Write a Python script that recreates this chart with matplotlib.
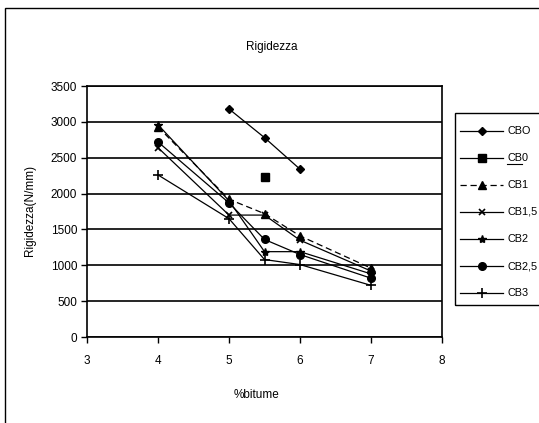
import matplotlib
matplotlib.use("Agg")
import matplotlib.pyplot as plt
from matplotlib.lines import Line2D
from matplotlib.patches import Rectangle

plt.rcParams['font.family'] = ['Liberation Sans', 'DejaVu Sans']

# Bitumen content (%) and stiffness (N/mm) per mix
series_names = ["CBO", "CB0", "CB1", "CB1,5", "CB2", "CB2,5", "CB3"]
x_cbo = [5, 5.5, 6]
y_cbo = [3180, 2780, 2340]
x_cb0 = [5.5]
y_cb0 = [2230]
x_main = [4, 5, 5.5, 6, 7]
y_cb1 = [2930, 1920, 1720, 1410, 960]
y_cb15 = [2640, 1700, 1700, 1350, 920]
y_cb2 = [2960, 1900, 1190, 1190, 880]
y_cb25 = [2720, 1870, 1360, 1150, 820]
y_cb3 = [2260, 1650, 1080, 1010, 720]

x_ticks = [3, 4, 5, 6, 7, 8]
y_ticks = [0, 500, 1000, 1500, 2000, 2500, 3000, 3500]

W, H = 539, 423
fig = plt.figure(figsize=(W / 100, H / 100), dpi=100)
fig.patch.set_facecolor("white")

# outer chart frame
fig.add_artist(Rectangle((5 / W, -0.05), 1.2, 1 - 8 / H + 0.05,
                         transform=fig.transFigure, fill=False,
                         edgecolor="black", linewidth=1.0))

ax = fig.add_axes([87 / W, 1 - 337 / H, (442 - 87) / W, (337 - 86) / H])
ax.set_xlim(3, 8)
ax.set_ylim(0, 3500)
ax.set_xticks(x_ticks)
ax.set_yticks(y_ticks)
ax.set_xticklabels([str(v) for v in x_ticks])
ax.set_yticklabels([str(v) for v in y_ticks])
ax.tick_params(direction="out", length=4, width=1, labelsize=8.5, colors="black")
ax.tick_params(axis="x", pad=9)
ax.tick_params(axis="y", pad=3)
for s in ax.spines.values():
    s.set_linewidth(1.2)
    s.set_color("black")
ax.grid(axis="y", color="black", linewidth=1.2)
ax.set_axisbelow(True)

lw = 0.9
styles = [
    dict(marker="D", ms=4.5, ls="-"),
    dict(marker="s", ms=5.5, ls="none"),
    dict(marker="^", ms=5.5, ls=(0, (5, 3))),
    dict(marker="x", ms=4.5, ls="-", mew=1.2),
    dict(marker="*", ms=6, ls="-"),
    dict(marker="o", ms=5.5, ls="-"),
    dict(marker="+", ms=6.5, ls="-", mew=1.2),
]
data = [(x_cbo, y_cbo), (x_cb0, y_cb0), (x_main, y_cb1), (x_main, y_cb15),
        (x_main, y_cb2), (x_main, y_cb25), (x_main, y_cb3)]
for (xs, ys), st in zip(data, styles):
    ax.plot(xs, ys, color="black", lw=lw, mfc="black", mec="black", **st)

fig.text(272 / W, 1 - 47 / H, "Rigidezza", ha="center", va="center", fontsize=8.5)
fig.text(256 / W, 1 - 395 / H, "%bitume", ha="center", va="center", fontsize=8.5)
fig.text(30 / W, 1 - 210 / H, "Rigidezza(N/mm)", ha="center", va="center",
         rotation=90, fontsize=8.5)

# legend box
fig.add_artist(Rectangle((455 / W, 1 - 305 / H), 1.0, (305 - 113) / H,
                         transform=fig.transFigure, fill=False,
                         edgecolor="black", linewidth=1.0))
ys_leg = [131, 158, 185, 212, 239, 266, 293]
for name, st, yl in zip(series_names, styles, ys_leg):
    yy = 1 - yl / H
    ls = st["ls"] if st["ls"] != "none" else "-"
    fig.add_artist(Line2D([460 / W, 503 / W], [yy, yy], transform=fig.transFigure,
                          color="black", lw=lw, ls=ls))
    fig.add_artist(Line2D([481.5 / W], [yy], transform=fig.transFigure,
                          color="black", marker=st["marker"], ms=st["ms"],
                          mfc="black", mec="black", mew=st.get("mew", 1), ls="none"))
    fig.text(507 / W, yy, name, ha="left", va="center", fontsize=7.8)
    if name == "CB0":
        fig.add_artist(Line2D([507 / W, 522 / W], [1 - (yl + 6) / H] * 2,
                              transform=fig.transFigure, color="black", lw=0.8))

fig.savefig("out.png", dpi=100)
